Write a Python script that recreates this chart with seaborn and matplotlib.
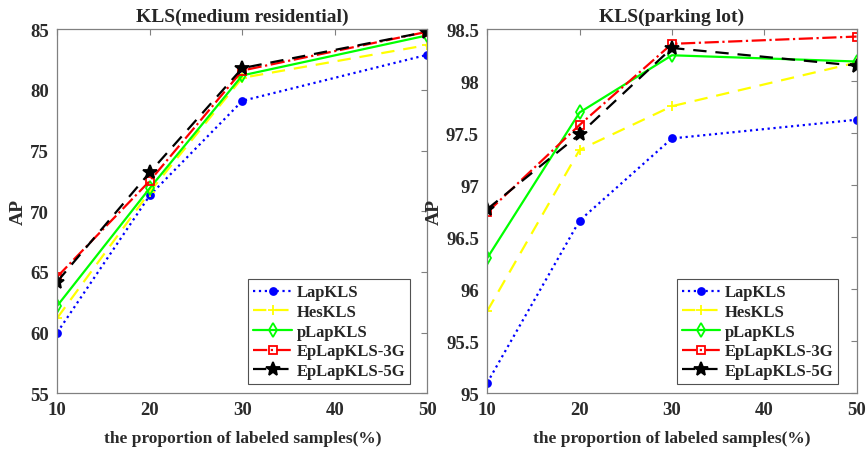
import numpy as np
import pandas as pd
import seaborn as sns
import matplotlib
matplotlib.use("Agg")
import matplotlib.pyplot as plt

proportions = [10, 20, 30, 50]
methods = ["LapKLS", "HesKLS", "pLapKLS", "EpLapKLS-3G", "EpLapKLS-5G"]

# AP values, medium residential
mr_lap = [60.0, 71.3, 79.1, 82.9]
mr_hes = [61.2, 71.6, 81.0, 83.7]
mr_plap = [62.2, 71.9, 81.2, 84.5]
mr_ep3 = [64.6, 72.5, 81.6, 84.8]
mr_ep5 = [64.2, 73.2, 81.8, 84.8]

# AP values, parking lot
pl_lap = [95.10, 96.66, 97.45, 97.63]
pl_hes = [95.79, 97.34, 97.76, 98.18]
pl_plap = [96.30, 97.70, 98.25, 98.19]
pl_ep3 = [96.74, 97.58, 98.36, 98.43]
pl_ep5 = [96.77, 97.49, 98.32, 98.15]

styles = {
    "LapKLS": dict(color="#0000ff", ls=":", marker="o", mfc="#0000ff", ms=5),
    "HesKLS": dict(color="#ffff00", ls=(0, (6, 4)), marker="+", mfc="none", ms=7),
    "pLapKLS": dict(color="#00ff00", ls="-", marker="d", mfc="none", ms=7),
    "EpLapKLS-3G": dict(color="#ff0000", ls="-.", marker="s", mfc="none", ms=5.5),
    "EpLapKLS-5G": dict(color="#000000", ls=(0, (6, 4)), marker="*", mfc="#000000", ms=10),
}


def make_df(series):
    rows = []
    for m, vals in zip(methods, series):
        for p, v in zip(proportions, vals):
            rows.append({"proportion": p, "AP": v, "method": m})
    return pd.DataFrame(rows)


sns.set_style("white")
plt.rcParams["font.family"] = ["Liberation Serif", "DejaVu Serif"]
plt.rcParams["font.weight"] = "bold"

fig = plt.figure(figsize=(8.67, 4.52), dpi=100)
ax1 = fig.add_axes([0.066, 0.128, 0.427, 0.805])
ax2 = fig.add_axes([0.562, 0.128, 0.426, 0.805])

panels = [
    (ax1, make_df([mr_lap, mr_hes, mr_plap, mr_ep3, mr_ep5]), "KLS(medium residential)",
     (55, 85), [55, 60, 65, 70, 75, 80, 85], ["55", "60", "65", "70", "75", "80", "85"], 0.954),
    (ax2, make_df([pl_lap, pl_hes, pl_plap, pl_ep3, pl_ep5]), "KLS(parking lot)",
     (95, 98.5), [95, 95.5, 96, 96.5, 97, 97.5, 98, 98.5],
     ["95", "95.5", "96", "96.5", "97", "97.5", "98", "98.5"], 0.951),
]

for ax, df, title, ylim, yt, ytl, legx in panels:
    for m in methods:
        st = styles[m]
        sub = df[df["method"] == m]
        sns.lineplot(data=sub, x="proportion", y="AP", ax=ax, color=st["color"],
                     linestyle=st["ls"], marker=st["marker"], markersize=st["ms"],
                     markerfacecolor=st["mfc"], markeredgecolor=st["color"],
                     markeredgewidth=1.3, linewidth=1.6, label=m)
    ax.set_xlim(10, 50)
    ax.set_ylim(*ylim)
    ax.set_xticks([10, 20, 30, 40, 50])
    ax.set_xticklabels(["10", "20", "30", "40", "50"])
    ax.set_yticks(yt)
    ax.set_yticklabels(ytl)
    ax.tick_params(direction="in", top=True, right=True, length=4, width=0.8,
                   colors="#808080", labelcolor="#2b2b2b", labelsize=13.5, pad=6)
    for lab in ax.get_xticklabels() + ax.get_yticklabels():
        lab.set_fontweight("bold")
    for sp in ax.spines.values():
        sp.set_color("#808080")
        sp.set_linewidth(0.9)
    ax.set_title(title, fontsize=14, fontweight="bold", pad=6)
    ax.set_xlabel("the proportion of labeled samples(%)", fontsize=12.5,
                  fontweight="bold", color="#2b2b2b", labelpad=8)
    ax.set_ylabel("AP", fontsize=14, fontweight="bold", color="#2b2b2b", labelpad=2)
    leg = ax.legend(loc="lower right", bbox_to_anchor=(legx, 0.025), fontsize=12,
                    frameon=True, fancybox=False, handlelength=2.3, borderpad=0.3,
                    labelspacing=0.22, handletextpad=0.3, borderaxespad=0)
    leg.get_frame().set_edgecolor("#262626")
    leg.get_frame().set_linewidth(0.8)
    for t in leg.get_texts():
        t.set_fontweight("bold")

fig.savefig("out.png", dpi=100)
